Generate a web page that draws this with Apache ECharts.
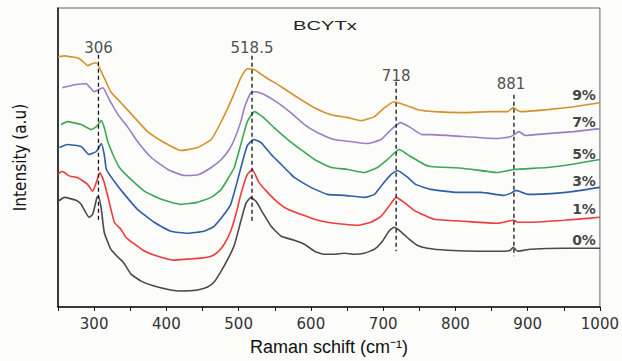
<!DOCTYPE html>
<html><head><meta charset="utf-8">
<script src="https://cdn.jsdelivr.net/npm/echarts@6/dist/echarts.min.js"></script>
<style>html,body{margin:0;padding:0;background:#fcfcfa;}#c{width:622px;height:361px;}</style>
</head><body><div id="c"></div>
<script>
// ---- data (wavenumber in cm^-1, intensity in arbitrary units, offset-stacked as in the figure)
const seriesNames = ['0%', '1%', '3%', '5%', '7%', '9%'];
const seriesColors = ['#4a4a4a', '#ee3b3b', '#2f5ea8', '#3da657', '#9a7ec0', '#d4922a'];

const x0 = [250,259,275,282,293,298,304,306,310,314,323,333,339,344,351,365,383,406,420,443,457,466,475,485,494,503,510,517,524,533,545,559,577,591,605,618,632,646,660,674,688,699,708,715,724,736,747,761,789,835,867,876,880,886,904,950,1000];
const y0 = [106,110,107,103,90,93,110,111,98,75,58,50,46,41,33,26,21,17,16,17,20,25,35,48,62,86,104,110,106,95,81,71,67,63,56,53,53,54,53,54,58,66,76,80,76,68,62,59,57,56,56,57,60,56,58,59,59];

const x1 = [250,255,259,264,268,277,291,298,303,308,314,321,328,337,344,356,370,388,411,429,448,462,471,480,489,497,503,512,519,528,540,554,568,586,605,623,646,665,683,697,708,718,729,743,757,771,812,858,881,886,904,950,1000];
const y1 = [133,136,135,132,131,130,123,116,125,135,125,105,85,78,70,63,56,51,47,48,49,51,55,63,76,95,113,133,138,125,115,105,98,93,88,85,83,82,85,91,101,110,105,97,92,88,86,84,87,85,85,87,90];

const x3 = [252,263,282,293,303,310,314,317,328,342,360,383,406,429,452,466,480,489,497,505,512,521,531,545,559,570,577,600,623,646,674,688,699,711,720,734,745,766,803,835,867,876,884,900,937,964,1000];
const y3 = [160,163,161,153,156,164,153,138,126,113,98,85,76,74,76,81,93,103,123,145,162,168,165,153,143,135,130,120,113,112,110,113,123,133,137,130,123,118,115,115,112,114,117,113,114,116,120];

const x5 = [254,263,282,296,303,310,314,319,326,335,351,370,393,420,443,462,476,487,494,503,512,522,533,549,568,586,605,628,651,674,692,706,722,738,757,766,812,858,881,927,960,1000];
const y5 = [183,186,183,178,181,187,180,166,153,140,128,116,108,103,105,110,118,131,140,163,186,196,191,180,168,158,148,140,138,135,140,148,158,151,143,141,139,135,138,140,143,148];

const x7 = [256,273,289,300,312,321,333,346,360,379,402,425,445,462,476,487,494,503,508,517,524,536,554,572,591,609,632,655,678,697,711,724,738,754,766,812,858,877,888,897,927,964,1000];
const y7 = [220,223,224,216,220,208,193,181,166,150,138,132,133,140,148,158,168,186,200,215,216,213,205,195,183,175,168,166,164,168,178,185,180,173,173,171,169,171,176,172,174,176,179];

const x9 = [250,259,268,277,285,291,297,303,312,323,337,356,374,397,420,443,462,476,489,496,503,512,522,536,559,582,605,628,651,669,688,702,715,729,748,771,812,849,872,880,890,927,964,1000];
const y9 = [251,252,251,250,246,242,244,245,233,216,205,190,176,165,157,160,168,186,206,218,230,239,238,231,221,210,200,193,190,187,191,200,206,203,198,196,195,196,196,200,196,198,201,205];

const seriesX = [x0, x1, x3, x5, x7, x9];
const seriesY = [y0, y1, y3, y5, y7, y9];

// series name labels at the right
const nameLabelX = [978, 978, 978, 978, 978, 978];
const nameLabelY = [67, 98, 126, 154, 186, 213];

// peak markers
const peakPos = [306, 518.5, 718, 881];
const peakText = ['306', '518.5', '718', '881'];
const peakTop = [253, 252, 226, 213];
const peakBottom = [85, 86, 56, 51];
const peakLabelX = [306, 518.5, 718, 877];
const peakLabelY = [260, 260, 232, 224];

const xTicks = [300, 400, 500, 600, 700, 800, 900, 1000];

// ---- chart
const chart = echarts.init(document.getElementById('c'), null, {renderer: 'svg'});
const FONT = 'Arial, "Liberation Sans", Helvetica, sans-serif';
const WIDE = '"DejaVu Sans", Arial, sans-serif';

const series = [];
seriesX.forEach((xs, i) => {
  series.push({
    type: 'line', name: seriesNames[i],
    data: xs.map((x, k) => [x, seriesY[i][k]]),
    showSymbol: false, symbol: 'none', smooth: 0.15,
    lineStyle: {color: seriesColors[i], width: 1.6},
    z: 3
  });
});
peakPos.forEach((p, i) => {
  series.push({
    type: 'line', data: [[p, peakTop[i]], [p, peakBottom[i]]],
    symbol: 'none', lineStyle: {color: '#111', width: 1.3, type: [4, 3]}, z: 4
  });
});
series.push({
  type: 'scatter', symbolSize: 1, itemStyle: {color: 'rgba(0,0,0,0)'},
  data: peakLabelX.map((x, i) => [x, peakLabelY[i], peakText[i]]),
  label: {show: true, position: 'inside', formatter: p => p.data[2],
    color: '#222', fontSize: 15, fontFamily: WIDE},
  z: 5
});
series.push({
  type: 'scatter', symbolSize: 1, itemStyle: {color: 'rgba(0,0,0,0)'},
  data: nameLabelX.map((x, i) => [x, nameLabelY[i], seriesNames[i]]),
  label: {show: true, position: 'inside', formatter: p => p.data[2],
    color: '#111', fontSize: 14, fontWeight: 'bold', fontFamily: WIDE},
  z: 5
});

chart.setOption({
  backgroundColor: '#fcfcfa',
  animation: false,
  grid: {left: 58, right: 22, top: 8, bottom: 53, show: true, borderColor: '#666', borderWidth: 1},
  graphic: [{type: 'text', x: 293, y: 19, scaleX: 1.55,
    style: {text: 'BCYTx', font: '13px ' + FONT, fill: '#222'}}],
  xAxis: {
    type: 'value', min: 250, max: 1000, interval: 50,
    name: 'Raman schift (cm⁻¹)', nameLocation: 'middle', nameGap: 31,
    nameTextStyle: {fontSize: 18, color: '#111', fontFamily: FONT},
    axisLine: {lineStyle: {color: '#111', width: 1.5}},
    axisTick: {show: true, length: 4, lineStyle: {color: '#111'}},
    axisLabel: {fontSize: 15, color: '#333', fontFamily: WIDE, margin: 9,
      formatter: v => xTicks.indexOf(v) >= 0 ? String(v) : ''},
    splitLine: {show: false}
  },
  yAxis: {
    type: 'value', min: 0, max: 300,
    name: 'Intensity (a.u)', nameLocation: 'middle', nameGap: 30,
    nameTextStyle: {fontSize: 17, color: '#111', fontFamily: '"Liberation Sans Narrow", "DejaVu Sans Condensed", ' + FONT},
    axisLine: {show: true, lineStyle: {color: '#111', width: 1.5}},
    axisTick: {show: false}, axisLabel: {show: false}, splitLine: {show: false}
  },
  series: series
});
</script>
</body></html>
